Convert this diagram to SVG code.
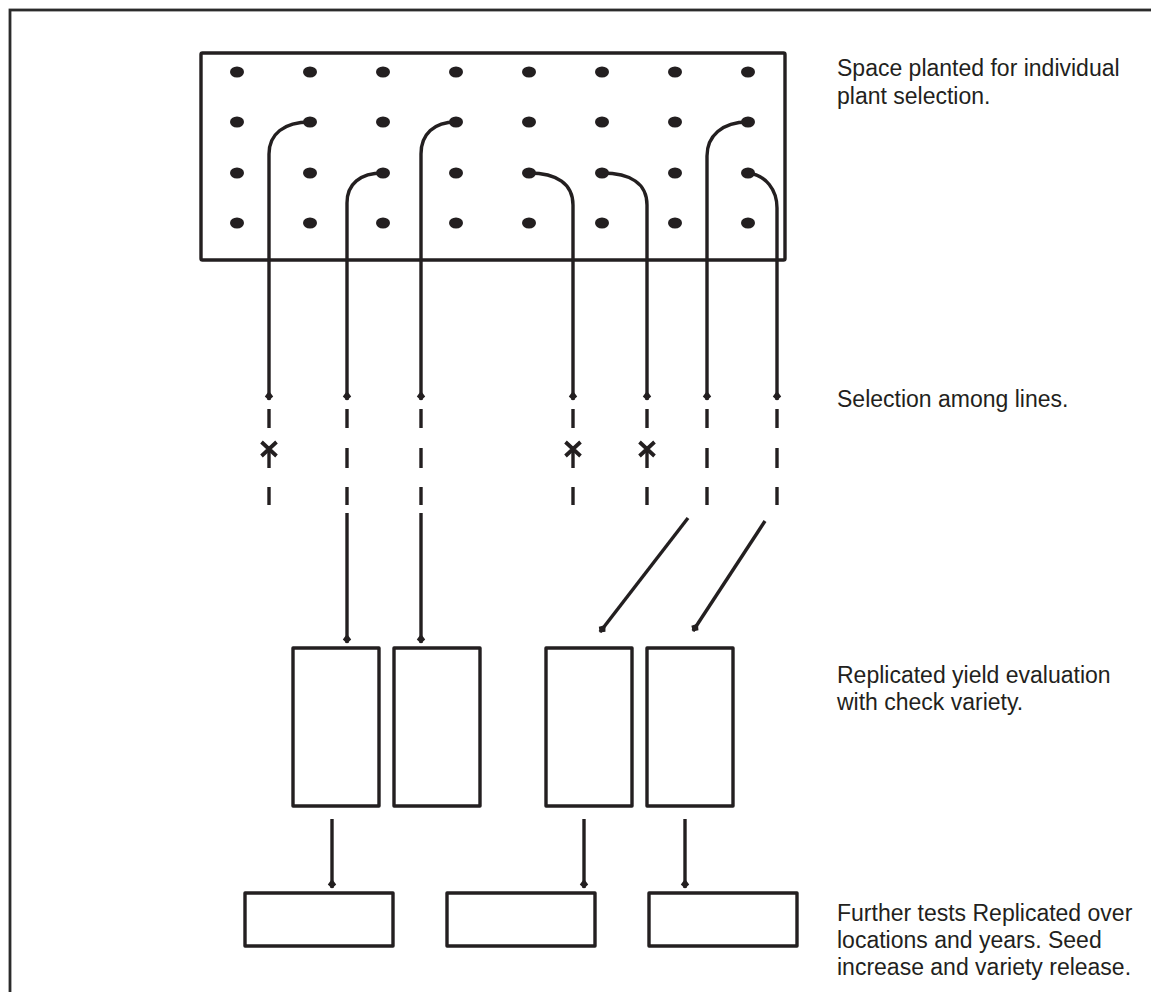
<svg xmlns="http://www.w3.org/2000/svg" width="1151" height="992" viewBox="0 0 1151 992">
  <style>
    .ln { fill: none; stroke: #231f20; stroke-width: 3.4; stroke-linecap: butt; }
    .box { fill: #ffffff; stroke: #231f20; stroke-width: 3.4; stroke-linejoin: round; }
    .dot { fill: #231f20; }
    .dash { stroke: #231f20; stroke-width: 3.4; }
    .rej { stroke: #231f20; stroke-width: 3.8; }
    .lbl { font-family: "Liberation Sans", Arial, sans-serif; font-size: 23px; fill: #231f20; }
  </style>
  <defs>
    <marker id="tip" viewBox="-7 -6 13 12" markerWidth="13" markerHeight="12" refX="3.5" refY="0" orient="auto" markerUnits="userSpaceOnUse">
      <path d="M-5.5,0 L0,-4.2 L4,0 L0,4.2 Z" fill="#231f20"/>
    </marker>
  </defs>

  <rect width="1151" height="992" fill="#ffffff"/>
  <!-- page frame (open at right and bottom) -->
  <rect x="10" y="10" width="1170" height="1010" fill="none" stroke="#2b2b2b" stroke-width="2.8"/>

  <!-- nursery plot with spaced plants -->
  <g id="plot">
    <rect class="box" x="201" y="53" width="584" height="207" rx="1.5"/>
    <g class="dot">
      <ellipse cx="237" cy="72" rx="7" ry="5.5"/><ellipse cx="310" cy="72" rx="7" ry="5.5"/>
      <ellipse cx="383" cy="72" rx="7" ry="5.5"/><ellipse cx="456" cy="72" rx="7" ry="5.5"/>
      <ellipse cx="529" cy="72" rx="7" ry="5.5"/><ellipse cx="602" cy="72" rx="7" ry="5.5"/>
      <ellipse cx="675" cy="72" rx="7" ry="5.5"/><ellipse cx="748" cy="72" rx="7" ry="5.5"/>

      <ellipse cx="237" cy="122" rx="7" ry="5.5"/><ellipse cx="310" cy="122" rx="7" ry="5.5"/>
      <ellipse cx="383" cy="122" rx="7" ry="5.5"/><ellipse cx="456" cy="122" rx="7" ry="5.5"/>
      <ellipse cx="529" cy="122" rx="7" ry="5.5"/><ellipse cx="602" cy="122" rx="7" ry="5.5"/>
      <ellipse cx="675" cy="122" rx="7" ry="5.5"/><ellipse cx="748" cy="122" rx="7" ry="5.5"/>

      <ellipse cx="237" cy="173" rx="7" ry="5.5"/><ellipse cx="310" cy="173" rx="7" ry="5.5"/>
      <ellipse cx="383" cy="173" rx="7" ry="5.5"/><ellipse cx="456" cy="173" rx="7" ry="5.5"/>
      <ellipse cx="529" cy="173" rx="7" ry="5.5"/><ellipse cx="602" cy="173" rx="7" ry="5.5"/>
      <ellipse cx="675" cy="173" rx="7" ry="5.5"/><ellipse cx="748" cy="173" rx="7" ry="5.5"/>

      <ellipse cx="237" cy="223" rx="7" ry="5.5"/><ellipse cx="310" cy="223" rx="7" ry="5.5"/>
      <ellipse cx="383" cy="223" rx="7" ry="5.5"/><ellipse cx="456" cy="223" rx="7" ry="5.5"/>
      <ellipse cx="529" cy="223" rx="7" ry="5.5"/><ellipse cx="602" cy="223" rx="7" ry="5.5"/>
      <ellipse cx="675" cy="223" rx="7" ry="5.5"/><ellipse cx="748" cy="223" rx="7" ry="5.5"/>
    </g>
  </g>

  <!-- replicated yield trial plots -->
  <g id="yield-1"><rect class="box" x="293" y="648" width="86" height="158"/></g>
  <g id="yield-2"><rect class="box" x="394" y="648" width="86" height="158"/></g>
  <g id="yield-3"><rect class="box" x="546" y="648" width="86" height="158"/></g>
  <g id="yield-4"><rect class="box" x="647" y="648" width="86" height="158"/></g>

  <!-- multi-location tests -->
  <g id="further-1"><rect class="box" x="245" y="893" width="148" height="53"/></g>
  <g id="further-2"><rect class="box" x="447" y="893" width="148" height="53"/></g>
  <g id="further-3"><rect class="box" x="649" y="893" width="148" height="53"/></g>

  <g id="connectors">
    <!-- selected plants leave the plot -->
    <path class="ln" marker-end="url(#tip)" d="M310,122 C284,122 269,134 269,154 V400"/>
    <path class="ln" marker-end="url(#tip)" d="M456,122 C434,122 421,134 421,154 V400"/>
    <path class="ln" marker-end="url(#tip)" d="M383,173 C360,173 347,184 347,203 V400"/>
    <path class="ln" marker-end="url(#tip)" d="M529,173 C557,173 573,184 573,205 V400"/>
    <path class="ln" marker-end="url(#tip)" d="M602,173 C631,173 647,184 647,205 V400"/>
    <path class="ln" marker-end="url(#tip)" d="M748,122 C722,122 707,136 707,156 V400"/>
    <path class="ln" marker-end="url(#tip)" d="M748,173 C766,175 777,190 777,208 V400"/>

    <!-- progeny rows (dashed) -->
    <g class="dash">
      <line x1="269" y1="409" x2="269" y2="428"/><line x1="269" y1="448" x2="269" y2="468"/><line x1="269" y1="487" x2="269" y2="505"/>
      <line x1="347" y1="409" x2="347" y2="428"/><line x1="347" y1="448" x2="347" y2="468"/><line x1="347" y1="487" x2="347" y2="505"/>
      <line x1="421" y1="409" x2="421" y2="428"/><line x1="421" y1="448" x2="421" y2="468"/><line x1="421" y1="487" x2="421" y2="505"/>
      <line x1="573" y1="409" x2="573" y2="428"/><line x1="573" y1="448" x2="573" y2="468"/><line x1="573" y1="487" x2="573" y2="505"/>
      <line x1="647" y1="409" x2="647" y2="428"/><line x1="647" y1="448" x2="647" y2="468"/><line x1="647" y1="487" x2="647" y2="505"/>
      <line x1="707" y1="409" x2="707" y2="428"/><line x1="707" y1="448" x2="707" y2="468"/><line x1="707" y1="487" x2="707" y2="505"/>
      <line x1="777" y1="409" x2="777" y2="428"/><line x1="777" y1="448" x2="777" y2="468"/><line x1="777" y1="487" x2="777" y2="505"/>
    </g>

    <!-- discarded lines -->
    <g class="rej">
      <path d="M261.5,442 L276.5,456 M276.5,442 L261.5,456"/>
      <path d="M565.5,442 L580.5,456 M580.5,442 L565.5,456"/>
      <path d="M639.5,442 L654.5,456 M654.5,442 L639.5,456"/>
    </g>

    <!-- into yield trials -->
    <path class="ln" marker-end="url(#tip)" d="M347,513 V643"/>
    <path class="ln" marker-end="url(#tip)" d="M421,513 V643"/>
    <path class="ln" marker-end="url(#tip)" d="M688,518 L600,632"/>
    <path class="ln" marker-end="url(#tip)" d="M765,521 L693,631"/>

    <!-- into further testing -->
    <path class="ln" marker-end="url(#tip)" d="M332,819 V888"/>
    <path class="ln" marker-end="url(#tip)" d="M584,819 V888"/>
    <path class="ln" marker-end="url(#tip)" d="M685,819 V888"/>
  </g>

  <!-- stage notes -->
  <g id="label-plot">
    <text class="lbl" x="837" y="76">Space planted for individual</text>
    <text class="lbl" x="837" y="104">plant selection.</text>
  </g>
  <g id="label-lines">
    <text class="lbl" x="837" y="407">Selection among lines.</text>
  </g>
  <g id="label-yield">
    <text class="lbl" x="837" y="683">Replicated yield evaluation</text>
    <text class="lbl" x="837" y="710">with check variety.</text>
  </g>
  <g id="label-further">
    <text class="lbl" x="837" y="921">Further tests Replicated over</text>
    <text class="lbl" x="837" y="948">locations and years. Seed</text>
    <text class="lbl" x="837" y="975">increase and variety release.</text>
  </g>
</svg>
